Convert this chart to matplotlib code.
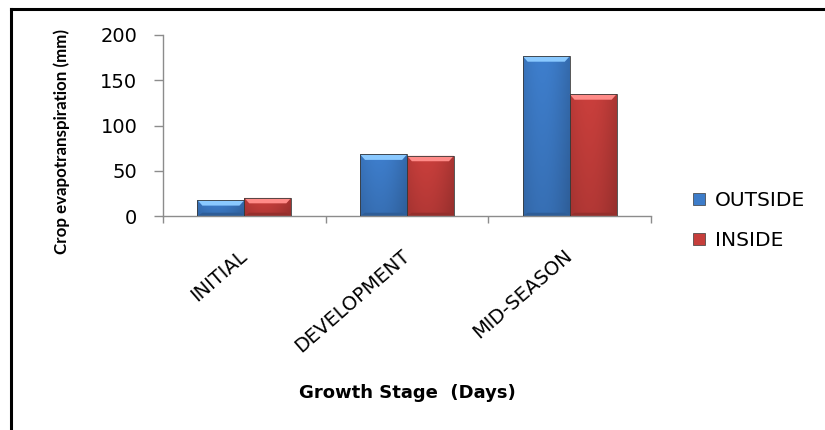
import matplotlib.pyplot as plt
import numpy as np
from matplotlib.patches import Polygon, Rectangle
from matplotlib.lines import Line2D
from matplotlib.colors import to_rgb

stages = ['INITIAL', 'DEVELOPMENT', 'MID-SEASON']
outside = [17.5, 68, 176.5]
inside = [20, 66.5, 134.5]
series_names = ['OUTSIDE', 'INSIDE']
blue = '#3D7CC9'
red = '#C63E3B'

plt.rcParams['font.family'] = ['DejaVu Sans']

fig = plt.figure(figsize=(8.25, 4.30), dpi=100)
ax = fig.add_axes([163 / 825, 1 - 216 / 430, 488 / 825, 181 / 430])

x = np.arange(len(stages))
w = 0.288


def shaded_bars(xs, vals, color):
    bars = ax.bar(xs, vals, w, color='none', edgecolor='#3a3a3a', linewidth=0.6, zorder=3)
    base = np.array(to_rgb(color))
    for b in bars:
        x0, y0 = b.get_x(), b.get_y()
        bw, bh = b.get_width(), b.get_height()
        # horizontal and vertical shading
        hx = np.linspace(0, 1, 60)
        sx = 0.86 + 0.16 * np.sin(np.pi * (0.15 + 0.85 * hx))
        vy = np.linspace(0, 1, 60)[:, None]
        sy = 1.0 - 0.12 * vy
        img = np.clip(base[None, None, :] * (sx[None, :, None] * sy[:, :, None]), 0, 1)
        im = ax.imshow(img, extent=[x0, x0 + bw, y0, y0 + bh], aspect='auto',
                       origin='upper', zorder=2, interpolation='bilinear')
        im.set_clip_path(b)
        # top / bottom bevel
        dx = 0.03
        dy = 6
        light = np.clip(base + 0.3, 0, 1)
        dark = base * 0.75
        if bh > 2 * dy:
            ax.add_patch(Polygon([(x0, y0 + bh), (x0 + bw, y0 + bh), (x0 + bw - dx, y0 + bh - dy),
                                  (x0 + dx, y0 + bh - dy)], closed=True, color=light, lw=0, zorder=2.5))
            ax.add_patch(Polygon([(x0, y0), (x0 + bw, y0), (x0 + bw - dx, y0 + dy * 0.6),
                                  (x0 + dx, y0 + dy * 0.6)], closed=True, color=dark, lw=0, zorder=2.5))
        else:
            ax.add_patch(Polygon([(x0, y0 + bh), (x0 + bw, y0 + bh), (x0 + bw - dx, y0 + bh * 0.5),
                                  (x0 + dx, y0 + bh * 0.5)], closed=True, color=light, lw=0, zorder=2.5))
    return bars


shaded_bars(x - w / 2, outside, blue)
shaded_bars(x + w / 2, inside, red)

ax.set_xlim(-0.5, len(stages) - 0.5)
ax.set_ylim(0, 200)
ax.set_yticks([0, 50, 100, 150, 200])
ax.tick_params(axis='y', length=6.5, width=1, color='#8c8c8c', pad=12, labelsize=14)

ax.set_xticks(x)
ax.set_xticklabels(stages, rotation=41, ha='right', va='center', rotation_mode='anchor', fontsize=14)
ax.tick_params(axis='x', which='major', length=0, pad=27)
ax.set_xticks(np.arange(len(stages) + 1) - 0.5, minor=True)
ax.tick_params(axis='x', which='minor', length=5, width=1, color='#8c8c8c')

for s in ['top', 'right']:
    ax.spines[s].set_visible(False)
for s in ['left', 'bottom']:
    ax.spines[s].set_color('#8c8c8c')
    ax.spines[s].set_linewidth(1)

fig.text(62 / 825, 1 - 142 / 430, 'Crop evapotranspiration (mm)', rotation=90,
         ha='center', va='center', fontsize=12.2, fontweight='bold', family='Lato')
fig.text(407 / 825, 1 - 393 / 430, 'Growth Stage  (Days)', ha='center', va='center',
         fontsize=13, fontweight='bold')

handles = [Rectangle((0, 0), 1, 1, facecolor=blue, edgecolor='#3a3a3a', lw=0.5),
           Rectangle((0, 0), 1, 1, facecolor=red, edgecolor='#3a3a3a', lw=0.5)]
fig.legend(handles, series_names, loc='upper left', bbox_to_anchor=(685 / 825, 1 - 183 / 430),
           frameon=False, fontsize=14.5, handlelength=0.6, handleheight=0.55,
           handletextpad=0.5, labelspacing=1.05, borderaxespad=0)

# outer frame
fig.add_artist(Line2D([11 / 825, 1], [1 - 9 / 430, 1 - 9 / 430], color='black', lw=2.2,
                      transform=fig.transFigure))
fig.add_artist(Line2D([11 / 825, 11 / 825], [0, 1 - 9 / 430], color='black', lw=2.2,
                      transform=fig.transFigure))

fig.savefig('out.png', dpi=100)
